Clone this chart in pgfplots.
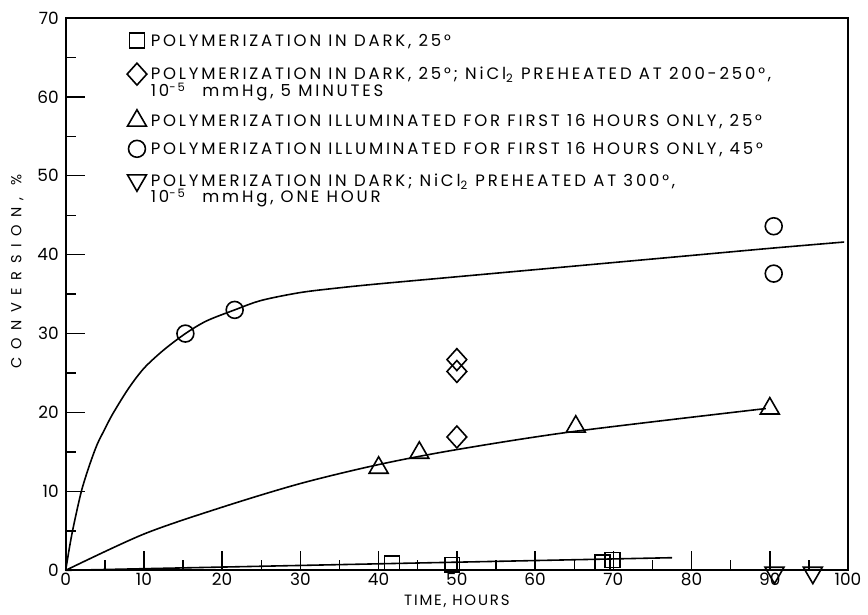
\documentclass[border=0pt]{standalone}
\usepackage{fontspec}
\setmainfont{Poppins}
\newfontfamily\legfont{Poppins}[LetterSpace=17]
\newfontfamily\ylabfont{Poppins}[LetterSpace=52]
\newfontfamily\xlabfont{Poppins}[LetterSpace=12]
\usepackage{pgfplots}
\pgfplotsset{compat=1.18}
\begin{document}
\begin{tikzpicture}
\begin{axis}[
  scale only axis, width=393pt, height=277.5pt,
  xmin=0, xmax=100, ymin=0, ymax=70,
  xtick={0,10,...,100}, ytick={0,10,...,70},
  minor x tick num=1, minor y tick num=1,
  tick align=inside, tick pos=left,
  major tick length=9.5pt, minor tick length=5pt,
  tick style={black, line width=0.7pt},
  axis line style={black, line width=1pt},
  /pgf/number format/assume math mode=true,
  ticklabel style={font=\fontsize{8.5}{10}\selectfont},
  xticklabel style={yshift=2pt},
  xlabel={TIME, HOURS}, ylabel={CONVERSION, \%},
  xlabel style={font=\fontsize{7.5}{9}\selectfont\xlabfont, at={(axis description cs:0.5,-0.056)}, anchor=center},
  ylabel style={font=\fontsize{7.3}{9}\selectfont\ylabfont, at={(axis description cs:-0.062,0.541)}, anchor=center},
  clip=false,
  legend style={draw=none, fill=none, at={(0.078,0.979)}, anchor=north west, inner sep=0pt,
    font=\fontsize{8.3}{10}\selectfont\legfont, cells={anchor=base west}, row sep=1.5pt,
    nodes={text depth=, text height=},
    /tikz/every even column/.append style={column sep=11pt}},
  legend image post style={yshift=2.9pt},
]
\addplot[black, line width=0.8pt, forget plot] coordinates {(0,0)(77.5,1.6)};
\addplot[black, line width=0.8pt, smooth, forget plot] coordinates {(0,0)(10,4.6)(20,8.0)(30,11.0)(40,13.4)(50,15.3)(65,17.6)(89.5,20.5)};
\addplot[black, line width=0.8pt, smooth, tension=0.5, forget plot] coordinates {(0,0)(0.5,3)(1,5.6)(2,10)(3,13.2)(4,15.9)(5,17.9)(6,19.8)(8,23)(10,25.6)(12.5,27.9)(15.3,30)(18,31.6)(21.6,33)(25,34.2)(30,35.2)(35,35.8)(40,36.3)(50,37.2)(60,38.1)(70,39.0)(80,39.9)(90,40.8)(99.5,41.6)};
\addplot[only marks, mark=square, mark size=3.75pt, mark options={fill=white, draw=black, line width=0.8pt}] coordinates {(41.7,0.9)(49.4,0.7)(68.6,1.0)(69.9,1.3)};
\addlegendentry{\rule[-3pt]{0pt}{8pt}POLYMERIZATION IN DARK, 25°}
\addplot[only marks, mark=diamond, mark size=5.5pt, mark options={fill=white, draw=black, line width=0.8pt, xscale=1.2}] coordinates {(50,26.7)(50,25.2)(50,16.9)};
\addlegendentry{\rule[-11.5pt]{0pt}{20pt}\rlap{\raisebox{-8.5pt}[0pt][0pt]{10\textsuperscript{-5}\quad mmHg, 5 MINUTES}}POLYMERIZATION IN DARK, 25°; NiCl\textsubscript{2} PREHEATED AT 200-250°,}
\addplot[only marks, mark=triangle, mark size=5.5pt, mark options={fill=white, draw=black, line width=0.8pt}] coordinates {(40,13.0)(45.2,14.9)(65.2,18.2)(90,20.5)};
\addlegendentry{\rule[-2.5pt]{0pt}{8pt}POLYMERIZATION ILLUMINATED FOR FIRST 16 HOURS ONLY, 25°}
\addplot[only marks, mark=o, mark size=4.25pt, mark options={fill=white, draw=black, line width=0.8pt}] coordinates {(15.3,30)(21.6,33)(90.5,43.6)(90.5,37.6)};
\addlegendentry{\rule[-4pt]{0pt}{8pt}POLYMERIZATION ILLUMINATED FOR FIRST 16 HOURS ONLY, 45°}
\addplot[only marks, mark=triangle, mark size=5.5pt, mark options={fill=white, draw=black, line width=0.8pt, rotate=180}] coordinates {(90.6,-0.3)(95.5,-0.3)};
\addlegendentry{\rule[-10pt]{0pt}{8pt}\rlap{\raisebox{-8.5pt}[0pt][0pt]{10\textsuperscript{-5}\quad mmHg, ONE HOUR}}POLYMERIZATION IN DARK; NiCl\textsubscript{2} PREHEATED AT 300°,}
\end{axis}
\path (current axis.south west)+(-33pt,-20.5pt) rectangle ([shift={(8pt,9pt)}]current axis.north east);
\end{tikzpicture}
\end{document}
